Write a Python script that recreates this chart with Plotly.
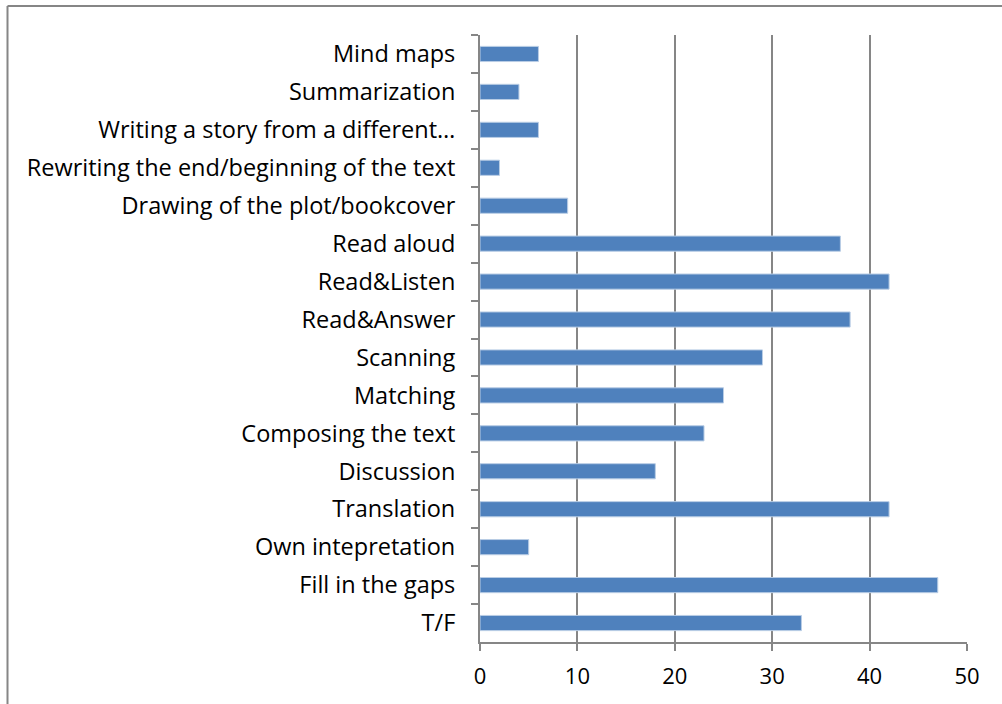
import plotly.graph_objects as go

categories = [
    "Mind maps",
    "Summarization",
    "Writing a story from a different…",
    "Rewriting the end/beginning of the text",
    "Drawing of the plot/bookcover",
    "Read aloud",
    "Read&Listen",
    "Read&Answer",
    "Scanning",
    "Matching",
    "Composing the text",
    "Discussion",
    "Translation",
    "Own intepretation",
    "Fill in the gaps",
    "T/F",
]
values = [6, 4, 6, 2, 9, 37, 42, 38, 29, 25, 23, 18, 42, 5, 47, 33]
x_ticks = [0, 10, 20, 30, 40, 50]

W, H = 1002, 704
L, R, T, B = 480, 35, 35, 62
pw, ph = W - L - R, H - T - B

fig = go.Figure(go.Bar(
    x=values, y=categories, orientation="h",
    width=0.4,
    marker=dict(color="#4F81BD", line=dict(color="#B9CDE5", width=1)),
    hoverinfo="x+y",
))

grid = "#868686"
font_family = "Open Sans"
fig.update_layout(
    width=W, height=H,
    margin=dict(l=L, r=R, t=T, b=B, pad=0),
    paper_bgcolor="white", plot_bgcolor="white",
    showlegend=False,
    font=dict(family=font_family, size=22, color="#000000"),
    xaxis=dict(
        range=[0, 50], tickvals=x_ticks, showgrid=True, gridcolor=grid, gridwidth=1.5,
        showline=True, linecolor=grid, linewidth=2, ticks="outside", ticklen=7,
        tickcolor=grid, tickwidth=2, zeroline=False, tickfont=dict(size=22),
        ticklabelstandoff=7,
    ),
    yaxis=dict(
        type="category", range=[15.5, -0.5], tickson="boundaries",
        showgrid=False, showline=True, linecolor=grid, linewidth=2,
        ticks="outside", ticklen=7, tickcolor=grid, tickwidth=2,
        tickfont=dict(size=23.5), ticklabelstandoff=18,
    ),
    shapes=[
        dict(type="line", xref="paper", yref="paper",
             x0=(7.5 - L) / pw, x1=(W + 10 - L) / pw,
             y0=1 + (T - 6) / ph, y1=1 + (T - 6) / ph,
             line=dict(color=grid, width=2)),
        dict(type="line", xref="paper", yref="paper",
             x0=(7.5 - L) / pw, x1=(7.5 - L) / pw,
             y0=1 + (T - 6) / ph, y1=-(B + 10) / ph,
             line=dict(color=grid, width=2)),
    ],
)

fig.write_html(
    "out.html",
    config={"displayModeBar": False},
    post_script="document.body.style.margin='0';document.body.style.overflow='hidden';",
)
